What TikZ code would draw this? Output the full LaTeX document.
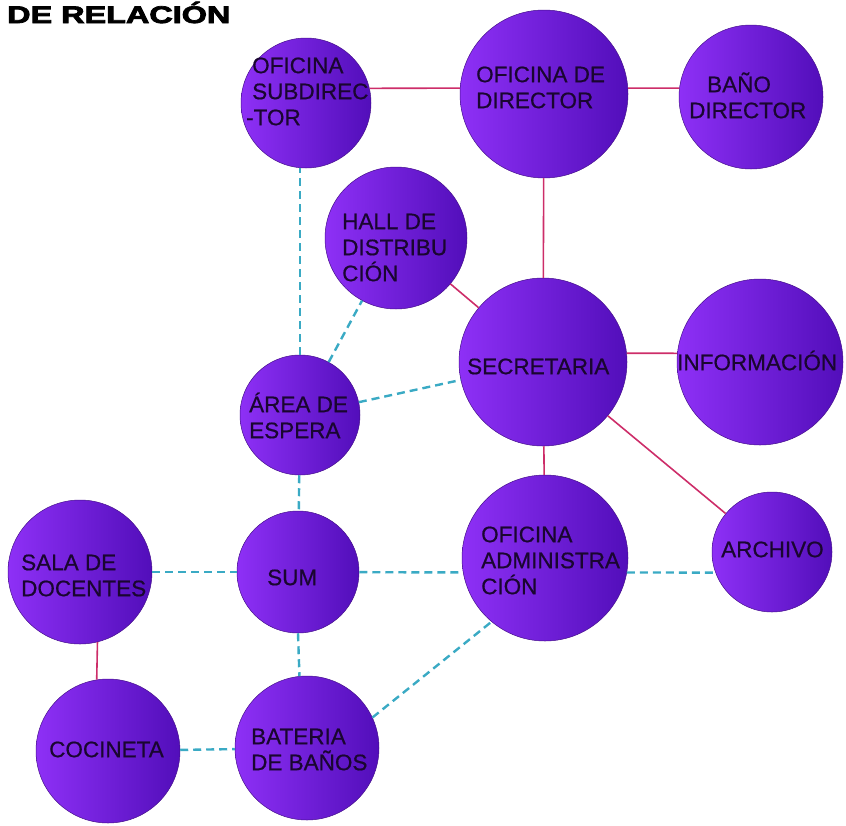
\documentclass[tikz,border=0pt]{standalone}
\usepackage{fontspec}
\setmainfont{Liberation Sans}
\newfontfamily\titlefont[FakeBold=3]{Liberation Sans Bold}
\newfontfamily\labelfont[FakeBold=0.6]{Liberation Sans}
\definecolor{roomL}{RGB}{142,48,246}
\definecolor{roomR}{RGB}{82,14,186}
\definecolor{roomB}{RGB}{70,16,140}
\definecolor{txt}{RGB}{26,6,48}
\definecolor{solidc}{RGB}{205,45,105}
\definecolor{dashc}{RGB}{58,170,196}
\newcommand{\fl}{\rule{0pt}{22pt}}
\begin{document}
\begin{tikzpicture}[x=1pt,y=-1pt,
  room/.style={circle, draw=roomB, line width=0.5pt, left color=roomL, right color=roomR, inner sep=0pt},
  lbl/.style={anchor=north west, inner sep=0pt, align=left, text=txt, font=\labelfont\fontsize{22.5}{26}\selectfont},
  strong/.style={draw=solidc, line width=1.6pt},
  weak/.style={draw=dashc, line width=2.4pt, dash pattern=on 8pt off 5pt}]
\useasboundingbox (0,0) rectangle (846,825);

% title
\node[anchor=base west, inner sep=0pt, font=\titlefont\fontsize{24}{24}\selectfont] (title) at (7,23) {\scalebox{1.35}[1]{DE RELACIÓN}};

% rooms
\node[room, minimum size=130pt] (sub)  at (306,103) {};
\node[room, minimum size=168pt] (dir)  at (544,94)  {};
\node[room, minimum size=144pt] (bano) at (751,97)  {};
\node[room, minimum size=142pt] (hall) at (396,238) {};
\node[room, minimum size=168pt] (sec)  at (543,362) {};
\node[room, minimum size=166pt] (info) at (760,362) {};
\node[room, minimum size=120pt] (area) at (300,415) {};
\node[room, minimum size=122pt] (sum)  at (298,572) {};
\node[room, minimum size=144pt] (sala) at (80,572)  {};
\node[room, minimum size=166pt] (adm)  at (545,558) {};
\node[room, minimum size=120pt] (arch) at (772,552) {};
\node[room, minimum size=144pt] (coc)  at (108,751) {};
\node[room, minimum size=144pt] (bat)  at (307,748) {};

% solid connectors
\draw[strong] (sub.13) -- (dir.176);
\draw[strong] (dir.4) -- (bano.173);
\draw[strong] (dir) -- (sec);
\draw[strong] (hall) -- (sec);
\draw[strong] (sec.6) -- (info.174);
\draw[strong] (sec) -- (adm);
\draw[strong] (sec) -- (arch);
\draw[strong] (sala.284) -- (coc.99);

% dashed connectors
\draw[weak] (area.north) -- (area.north |- sub.south);
\draw[weak] (area) -- (hall);
\draw[weak] (area) -- (sec);
\draw[weak] (area) -- (sum);
\draw[weak] (sala) -- (sum);
\draw[weak] (sum) -- (adm.190);
\draw[weak] (adm.350) -- (arch.200);
\draw[weak] (sum.south) -- (bat.96);
\draw[weak] (coc) -- (bat);
\draw[weak] (bat.25) -- (adm.230);

% labels
\node[lbl] (tsub)  at (252,51)  {\fl OFICINA\\SUBDIREC\\\hspace*{-6pt}-TOR};
\node[lbl] (tdir)  at (476,60)  {\fl OFICINA DE\\DIRECTOR};
\node[lbl] (tbano) at (689,70)  {\fl\hspace*{18pt}BAÑO\\DIRECTOR};
\node[lbl] (thall) at (342,207) {\fl HALL DE\\DISTRIBU\\CIÓN};
\node[lbl] (tsec)  at (467,352) {\fl SECRETARIA};
\node[lbl] (tinfo) at (677,348) {\fl INFORMACIÓN};
\node[lbl] (tarea) at (249,390) {\fl ÁREA DE\\ESPERA};
\node[lbl] (tsum)  at (267,563) {\fl SUM};
\node[lbl] (tsala) at (21,548)  {\fl SALA DE\\DOCENTES};
\node[lbl] (tadm)  at (481,520) {\fl OFICINA\\ADMINISTRA\\CIÓN};
\node[lbl] (tarch) at (721,535) {\fl ARCHIVO};
\node[lbl] (tcoc)  at (49,735)  {\fl COCINETA};
\node[lbl] (tbat)  at (251,722) {\fl BATERIA\\DE BAÑOS};
\end{tikzpicture}
\end{document}
